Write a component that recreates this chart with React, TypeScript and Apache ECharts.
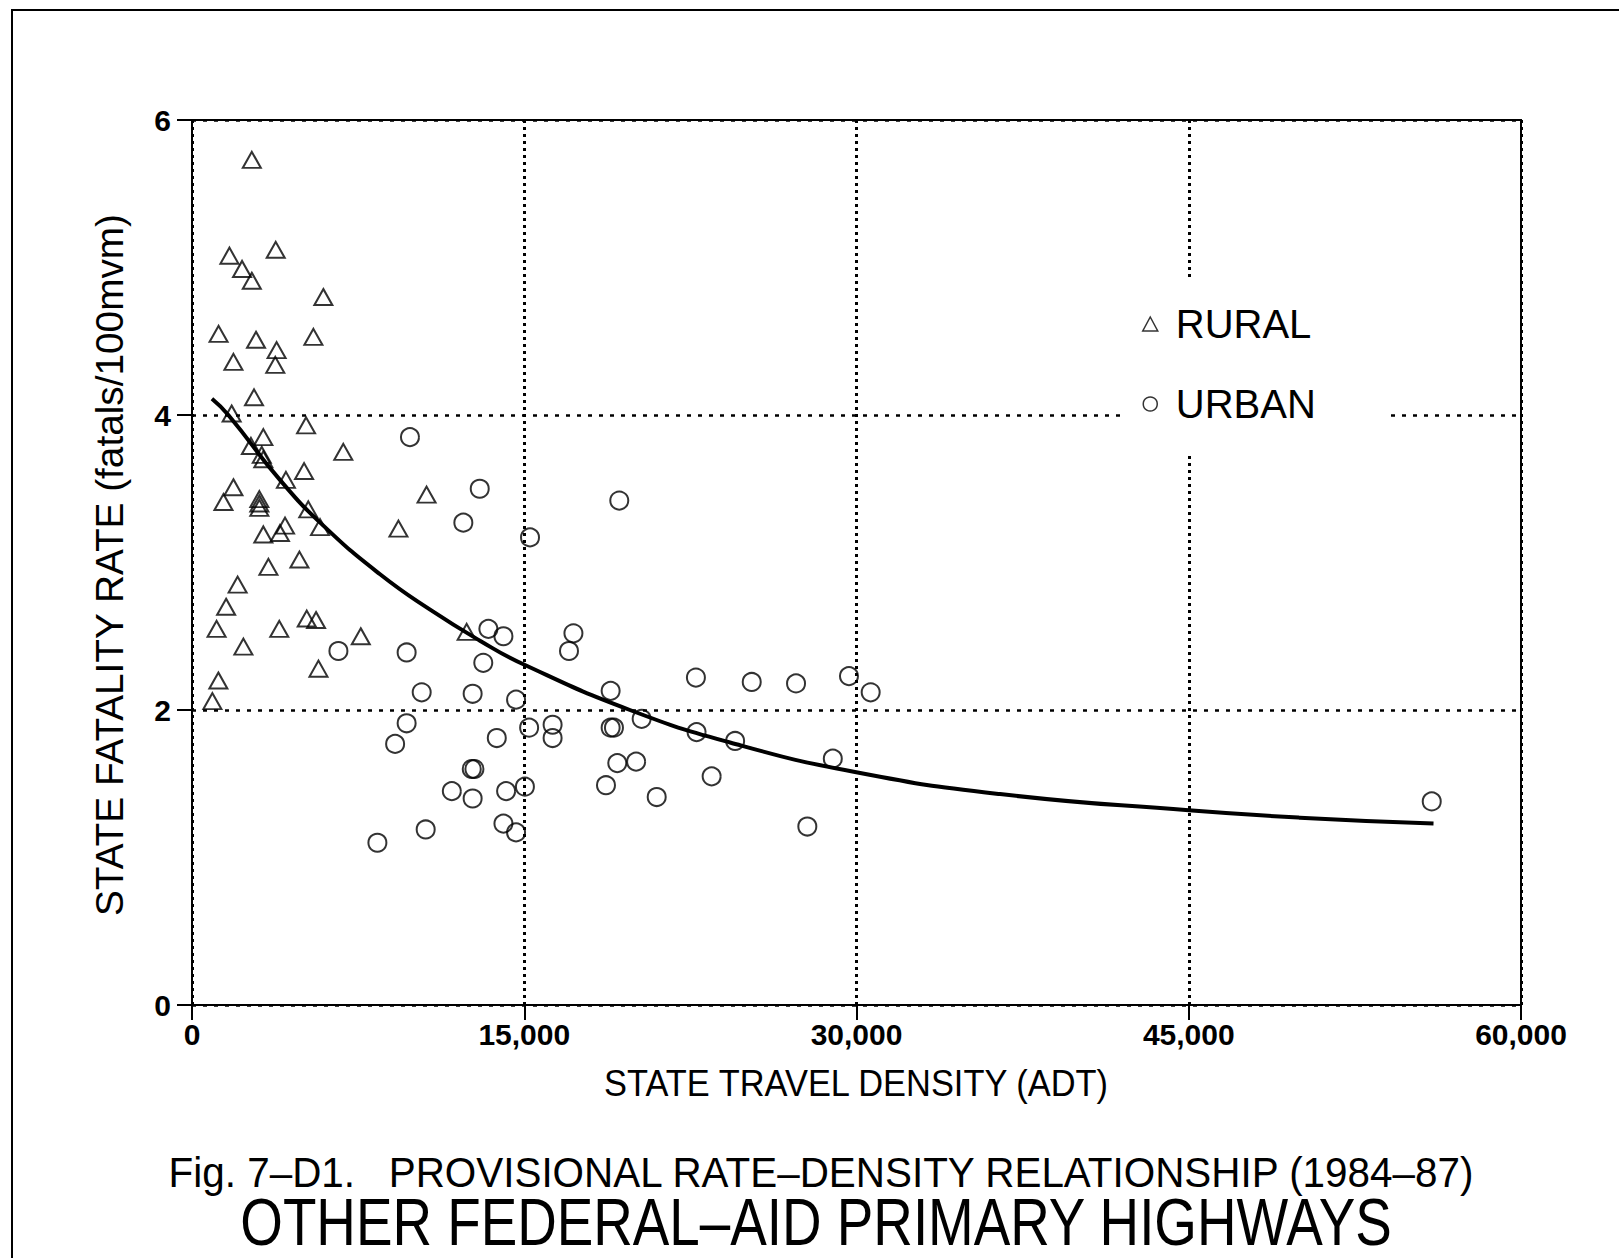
import React, { useEffect, useRef } from "react";
import * as echarts from "echarts";

const ruralX = [2700, 1690, 3780, 2260, 2700, 5930, 1200, 2890, 5480, 3820, 1870, 3760, 2800, 1790, 5150, 3220, 2660, 3150, 3220, 6830, 5060, 4240, 1870, 1420, 3040, 3040, 3040, 5250, 5780, 4200, 3970, 3220, 9320, 10590, 4850, 3450, 2060, 1540, 1110, 3940, 5180, 5600, 2320, 7620, 12400, 5710, 1190, 920];
const ruralY = [5.73, 5.08, 5.12, 4.99, 4.91, 4.8, 4.55, 4.51, 4.53, 4.44, 4.36, 4.34, 4.12, 4.01, 3.93, 3.85, 3.79, 3.73, 3.7, 3.75, 3.62, 3.56, 3.51, 3.41, 3.43, 3.4, 3.37, 3.36, 3.24, 3.25, 3.2, 3.19, 3.23, 3.46, 3.02, 2.97, 2.85, 2.7, 2.55, 2.55, 2.62, 2.61, 2.43, 2.5, 2.53, 2.28, 2.2, 2.06];

const urbanX = [9840, 12990, 12250, 15260, 19290, 6610, 9690, 10370, 12670, 9690, 9170, 13380, 14060, 17220, 17020, 13150, 14630, 18900, 22750, 15220, 16280, 16280, 13760, 18900, 19050, 20300, 22780, 24520, 12630, 12750, 19200, 20050, 23460, 11730, 12670, 14180, 15030, 18690, 20980, 10550, 14060, 14630, 8370, 25270, 27270, 29660, 30640, 28930, 27780, 55970];
const urbanY = [3.85, 3.5, 3.27, 3.17, 3.42, 2.4, 2.39, 2.12, 2.11, 1.91, 1.77, 2.55, 2.5, 2.52, 2.4, 2.32, 2.07, 2.13, 2.22, 1.88, 1.9, 1.81, 1.81, 1.88, 1.88, 1.94, 1.85, 1.79, 1.6, 1.6, 1.64, 1.65, 1.55, 1.45, 1.4, 1.45, 1.48, 1.49, 1.41, 1.19, 1.23, 1.17, 1.1, 2.19, 2.18, 2.23, 2.12, 1.67, 1.21, 1.38];

const curveX = [900, 1640, 3970, 5930, 8490, 10750, 13000, 14960, 19770, 24290, 29930, 36480, 45000, 50020, 56050];
const curveY = [4.11, 4.0, 3.56, 3.25, 2.92, 2.68, 2.47, 2.31, 2.0, 1.78, 1.58, 1.43, 1.32, 1.27, 1.23];

const seriesNames = ["RURAL", "URBAN"];
const xAxisTitle = "STATE TRAVEL DENSITY (ADT)";
const yAxisTitle = "STATE FATALITY RATE (fatals/100mvm)";
const titleLine1 = "Fig. 7\u2013D1.   PROVISIONAL RATE\u2013DENSITY RELATIONSHIP (1984\u201387)";
const titleLine2 = "OTHER FEDERAL\u2013AID PRIMARY HIGHWAYS";

const FONT = "'Liberation Sans', Arial, sans-serif";

function fmtThousands(v: number): string {
  return String(v).replace(/\B(?=(\d{3})+(?!\d))/g, ",");
}

export default function App() {
  const ref = useRef<HTMLDivElement>(null);
  useEffect(() => {
    const chart = echarts.init(ref.current!, null, { renderer: "svg" });
    const ruralData = ruralX.map((x, i) => [x, ruralY[i]]);
    const urbanData = urbanX.map((x, i) => [x, urbanY[i]]);
    const curveData = curveX.map((x, i) => [x, curveY[i]]);
    const markerStyle = { color: "rgba(255,255,255,0)", borderColor: "#000", borderWidth: 2 };
    chart.setOption({
      animation: false,
      backgroundColor: "#fff",
      textStyle: { fontFamily: FONT },
      grid: { left: 192, top: 120, width: 1329, height: 885, show: true, borderColor: "#000", borderWidth: 2, backgroundColor: "transparent" },
      xAxis: {
        type: "value",
        min: 0,
        max: 60000,
        interval: 15000,
        axisLine: { show: true, lineStyle: { color: "#000", width: 2 } },
        axisTick: { show: true, length: 15, lineStyle: { color: "#000", width: 2 } },
        axisLabel: { margin: 14, fontSize: 30, fontWeight: "bold", color: "#000", fontFamily: FONT, formatter: (v: number) => fmtThousands(v) },
        splitLine: { show: true, lineStyle: { color: "#000", width: 3, type: [3, 4] } },
      },
      yAxis: {
        type: "value",
        min: 0,
        max: 6,
        interval: 2,
        axisLine: { show: true, lineStyle: { color: "#000", width: 2 } },
        axisTick: { show: true, length: 15, lineStyle: { color: "#000", width: 2 } },
        axisLabel: { margin: 21, fontSize: 30, fontWeight: "bold", color: "#000", fontFamily: FONT },
        splitLine: { show: true, lineStyle: { color: "#000", width: 2.5, type: [4, 7] } },
      },
      legend: {
        orient: "vertical",
        left: 1120,
        top: 281,
        padding: [23, 74, 30, 22],
        backgroundColor: "#fff",
        itemGap: 40,
        itemWidth: 15,
        itemHeight: 14,
        textStyle: { fontSize: 40, lineHeight: 40, color: "#000", fontFamily: FONT, padding: [0, 0, 0, 13] },
        data: [
          { name: seriesNames[0], icon: "triangle", itemStyle: { color: "#fff", borderColor: "#000", borderWidth: 1.5 } },
          { name: seriesNames[1], icon: "circle", itemStyle: { color: "#fff", borderColor: "#000", borderWidth: 1.5 } },
        ],
      },
      series: [
        {
          name: seriesNames[0],
          type: "scatter",
          symbol: "triangle",
          symbolSize: [18, 16],
          itemStyle: markerStyle,
          data: ruralData,
          z: 3,
        },
        {
          name: seriesNames[1],
          type: "scatter",
          symbol: "circle",
          symbolSize: 18,
          itemStyle: markerStyle,
          data: urbanData,
          z: 3,
        },
        {
          name: "fit",
          type: "line",
          smooth: 0.5,
          showSymbol: false,
          symbol: "none",
          lineStyle: { color: "#000", width: 4 },
          data: curveData,
          z: 4,
        },
      ],
      graphic: [
        { type: "rect", shape: { x: 12, y: 10, width: 1700, height: 1400 }, style: { fill: "none", stroke: "#000", lineWidth: 2 }, silent: true },
        { type: "text", x: 110, y: 565, rotation: Math.PI / 2, scaleX: 1.02, style: { text: yAxisTitle, fontSize: 38, fontFamily: FONT, fill: "#000", align: "center", verticalAlign: "middle" } },
        { type: "text", x: 856, y: 1084, scaleX: 0.93, style: { text: xAxisTitle, fontSize: 37, fontFamily: FONT, fill: "#000", align: "center", verticalAlign: "middle" } },
        { type: "text", x: 821, y: 1172, scaleX: 0.94, style: { text: titleLine1, fontSize: 43, fontFamily: FONT, fill: "#000", align: "center", verticalAlign: "middle" } },
        { type: "text", x: 816, y: 1222, scaleX: 0.83, style: { text: titleLine2, fontSize: 66, fontFamily: FONT, fill: "#000", align: "center", verticalAlign: "middle" } },
      ],
    });
    return () => chart.dispose();
  }, []);
  return <div ref={ref} style={{ position: "absolute", left: 0, top: 0, width: 1619, height: 1258, background: "#fff" }} />;
}
